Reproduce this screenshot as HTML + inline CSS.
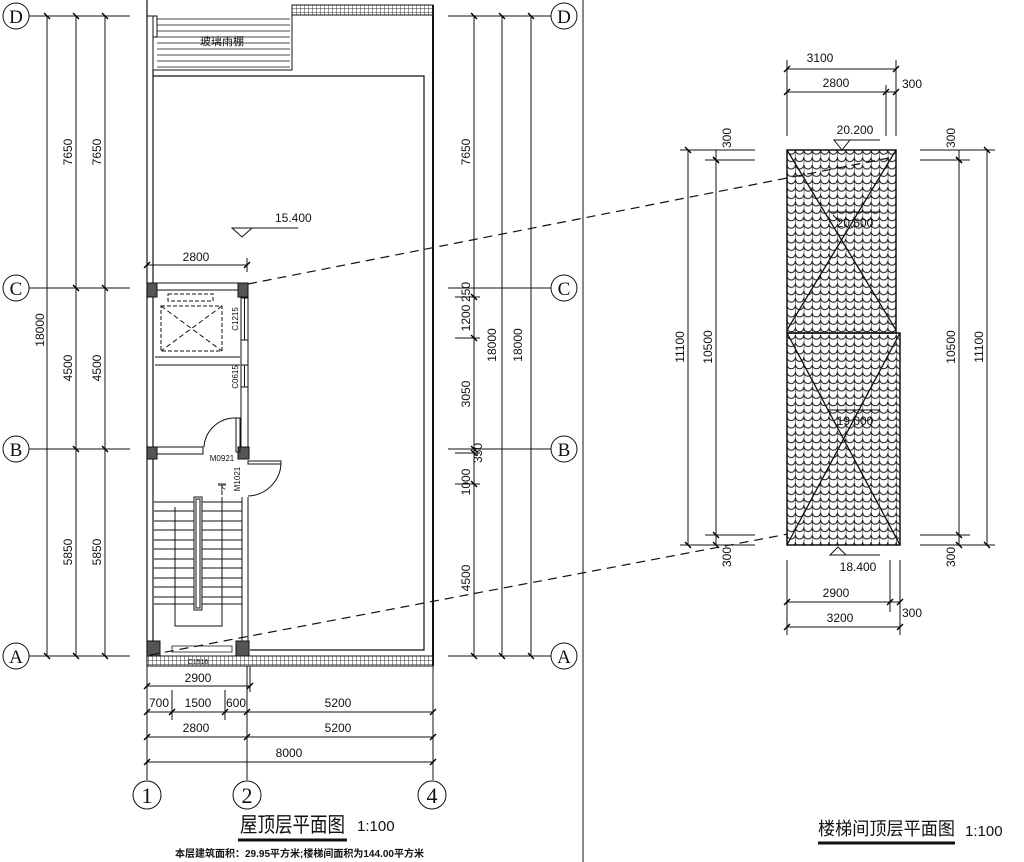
<!DOCTYPE html>
<html><head><meta charset="utf-8"><style>
html,body{margin:0;padding:0;background:#fff}
svg{display:block}
text{font-family:"Liberation Sans","Noto Sans CJK SC",sans-serif;fill:#111}
</style></head><body>
<svg width="1024" height="862" viewBox="0 0 1024 862" xmlns="http://www.w3.org/2000/svg">
<defs>
<marker id="t" viewBox="-4 -4 8 8" markerWidth="8" markerHeight="8" markerUnits="userSpaceOnUse" refX="0" refY="0" orient="auto">
<path d="M-3,3 L3,-3" stroke="#000" stroke-width="1.4"/></marker>
<pattern id="hat" width="4" height="4" patternUnits="userSpaceOnUse">
<rect width="4" height="4" fill="#fff"/><path d="M0,0H4M0,0V4" stroke="#333" stroke-width="1"/></pattern>
<pattern id="tile" x="787" y="150" width="8.4" height="7.4" patternUnits="userSpaceOnUse">
<path d="M0,0V7.4M0,0A4.2,4.2 0 0 0 8.4,0" stroke="#111" stroke-width="1" fill="none"/></pattern>
</defs>
<g stroke="#111" stroke-width="1" fill="none">
<line x1="583" y1="0" x2="583" y2="862"/>
<circle cx="16" cy="16" r="13"/><circle cx="16" cy="288" r="13"/><circle cx="16" cy="449" r="13"/><circle cx="16" cy="656" r="13"/>
<circle cx="564" cy="16" r="13"/><circle cx="564" cy="288" r="13"/><circle cx="564" cy="449" r="13"/><circle cx="564" cy="656" r="13"/>
<path d="M29,16H130M29,288H130M29,449H130M29,656H130"/>
<path d="M448,16H551M448,288H551M448,449H551M448,656H551"/>
<path d="M455,297H480M455,338H480M455,453H480M455,484H480"/>
<line x1="47" y1="16" x2="47" y2="656" marker-start="url(#t)" marker-end="url(#t)"/>
<line x1="76" y1="16" x2="76" y2="656" marker-start="url(#t)" marker-end="url(#t)"/>
<line x1="105" y1="16" x2="105" y2="656" marker-start="url(#t)" marker-end="url(#t)"/>
<line x1="76" y1="288" x2="76" y2="449" marker-start="url(#t)" marker-end="url(#t)"/>
<line x1="105" y1="288" x2="105" y2="449" marker-start="url(#t)" marker-end="url(#t)"/>
<line x1="474" y1="16" x2="474" y2="656" marker-start="url(#t)" marker-end="url(#t)"/>
<line x1="502" y1="16" x2="502" y2="656" marker-start="url(#t)" marker-end="url(#t)"/>
<line x1="531" y1="16" x2="531" y2="656" marker-start="url(#t)" marker-end="url(#t)"/>
<line x1="474" y1="288" x2="474" y2="297" marker-end="url(#t)"/>
<line x1="474" y1="338" x2="474" y2="449" marker-start="url(#t)" marker-end="url(#t)"/>
<line x1="474" y1="453" x2="474" y2="484" marker-start="url(#t)" marker-end="url(#t)"/>
<path d="M147,0V666M153,70V650H160M153,76H424V650H250" stroke-width="1.2"/>
<path d="M147,16H153M153,16V70H292V5" />
<path d="M433,5V666" stroke-width="2"/>
<rect x="292" y="5" width="141" height="10" fill="url(#hat)"/>
<rect x="147" y="656" width="286" height="10" fill="url(#hat)"/>
<path d="M157,19H290M157,25H290M157,31H290M157,37H290M157,43H290M157,49H290M157,55H290M157,61H290M157,67H290" stroke-width="0.8"/>
<path d="M153,16H157V37H153"/>
<path d="M157,283H238M157,290H238M241,297V447M248,297V447M155,357H240M155,365H240M242,497V641M248,497V641"/>
<rect x="241" y="298" width="7" height="42"/><line x1="244.5" y1="298" x2="244.5" y2="340"/>
<rect x="241" y="365" width="7" height="22"/><line x1="244.5" y1="365" x2="244.5" y2="387"/>
<path d="M157,447H203V454H157"/>
<g fill="#555"><rect x="147" y="283" width="10" height="14"/><rect x="238" y="283" width="10" height="14"/><rect x="147" y="447" width="10" height="12"/><rect x="238" y="447" width="11" height="12"/><rect x="147" y="641" width="13" height="15"/><rect x="236" y="641" width="13" height="15"/></g>
<rect x="168" y="294" width="45" height="7" stroke-dasharray="4,2"/>
<rect x="161" y="306" width="61" height="45" stroke-dasharray="4,2"/>
<path d="M161,306L222,351M222,306L161,351" stroke-dasharray="5,3"/>
<rect x="236" y="418" width="4" height="34"/>
<path d="M204,447A31,31 0 0 1 236,418"/>
<rect x="248" y="461" width="33" height="3"/>
<path d="M281,461A34,34 0 0 1 248,496"/>
<path d="M154,502H242M154,511H242M154,521H242M154,530H242M154,540H242M154,549H242M154,559H242M154,568H242M154,578H242M154,587H242M154,597H242M154,604H242" stroke-width="0.9"/>
<rect x="194" y="497" width="8" height="113" fill="#fff"/><rect x="196" y="499" width="4" height="109"/>
<path d="M175,507V626H222V498"/>
<path d="M222,485V520" stroke-dasharray="4,2"/>
<path d="M218,484H226"/>
<path d="M172,646H232V652H172Z" stroke-width="0.8"/>
<path d="M232,228H252L242,237Z M252,228H298"/>
<line x1="147" y1="265" x2="247" y2="265" marker-start="url(#t)" marker-end="url(#t)"/>
<path d="M247,258V272"/>
<path d="M248,284L889,158" stroke-dasharray="9,6" stroke-width="1.2"/>
<path d="M150,655L788,534" stroke-dasharray="9,6" stroke-width="1.2"/>
<path d="M147,666V780M247,666V780M433,666V780M172,690V720M225,690V720M250,666V692"/>
<line x1="147" y1="686" x2="250" y2="686" marker-start="url(#t)" marker-end="url(#t)"/>
<line x1="147" y1="712" x2="433" y2="712" marker-start="url(#t)" marker-end="url(#t)"/>
<line x1="172" y1="712" x2="225" y2="712" marker-start="url(#t)" marker-end="url(#t)"/>
<line x1="225" y1="712" x2="247" y2="712" marker-end="url(#t)"/>
<line x1="147" y1="737" x2="433" y2="737" marker-start="url(#t)" marker-end="url(#t)"/>
<line x1="147" y1="737" x2="247" y2="737" marker-end="url(#t)"/>
<line x1="147" y1="762" x2="433" y2="762" marker-start="url(#t)" marker-end="url(#t)"/>
<circle cx="147" cy="795" r="14"/><circle cx="247" cy="795" r="14"/><circle cx="432" cy="795" r="14"/>
<line x1="238" y1="840" x2="347" y2="840" stroke-width="3"/>
<rect x="787" y="150" width="109" height="183" fill="url(#tile)" stroke-width="1.5"/>
<rect x="787" y="333" width="113" height="212" fill="url(#tile)" stroke-width="1.5"/>
<path d="M787,150L896,330M896,150L787,330M787,333L900,545M900,333L787,545" stroke-width="1.3"/>
<path d="M830,212H880M833,215L840,222 M830,410H880"/>
<path d="M834,140H850L842,150Z M850,140H880"/>
<path d="M830,555H846L838,547Z M846,555H880"/>
<path d="M787,60V136M896,60V136M886,85V136"/>
<line x1="787" y1="69" x2="896" y2="69" marker-start="url(#t)" marker-end="url(#t)"/>
<line x1="787" y1="92" x2="886" y2="92" marker-start="url(#t)" marker-end="url(#t)"/>
<line x1="886" y1="92" x2="896" y2="92" marker-end="url(#t)"/>
<path d="M787,560V635M890,560V612M900,560V635"/>
<line x1="787" y1="602" x2="890" y2="602" marker-start="url(#t)" marker-end="url(#t)"/>
<line x1="890" y1="602" x2="900" y2="602" marker-end="url(#t)"/>
<line x1="787" y1="627" x2="900" y2="627" marker-start="url(#t)" marker-end="url(#t)"/>
<path d="M680,150H755M705,160H755M705,535H755M680,545H755"/>
<path d="M920,150H995M920,160H970M920,535H970M920,545H995"/>
<line x1="688" y1="150" x2="688" y2="545" marker-start="url(#t)" marker-end="url(#t)"/>
<line x1="716" y1="160" x2="716" y2="535" marker-start="url(#t)" marker-end="url(#t)"/>
<line x1="716" y1="150" x2="716" y2="160" marker-end="url(#t)"/>
<line x1="716" y1="535" x2="716" y2="545" marker-end="url(#t)"/>
<line x1="959" y1="160" x2="959" y2="535" marker-start="url(#t)" marker-end="url(#t)"/>
<line x1="959" y1="150" x2="959" y2="160" marker-end="url(#t)"/>
<line x1="959" y1="535" x2="959" y2="545" marker-end="url(#t)"/>
<line x1="987" y1="150" x2="987" y2="545" marker-start="url(#t)" marker-end="url(#t)"/>
<line x1="818" y1="843" x2="955" y2="843" stroke-width="3"/>
</g>
<g font-size="19" text-anchor="middle" style="font-family:'Liberation Serif',serif">
<text x="16" y="23" style="font-family:'Liberation Serif'">D</text><text x="16" y="295" style="font-family:'Liberation Serif'">C</text><text x="16" y="456" style="font-family:'Liberation Serif'">B</text><text x="16" y="663" style="font-family:'Liberation Serif'">A</text>
<text x="564" y="23" style="font-family:'Liberation Serif'">D</text><text x="564" y="295" style="font-family:'Liberation Serif'">C</text><text x="564" y="456" style="font-family:'Liberation Serif'">B</text><text x="564" y="663" style="font-family:'Liberation Serif'">A</text>
<text x="147" y="803" style="font-family:'Liberation Serif'" font-size="22">1</text><text x="247" y="803" style="font-family:'Liberation Serif'" font-size="22">2</text><text x="432" y="803" style="font-family:'Liberation Serif'" font-size="22">4</text>
</g>
<g font-size="12" text-anchor="middle">
<text transform="translate(44,330) rotate(-90)">18000</text>
<text transform="translate(72,152) rotate(-90)">7650</text>
<text transform="translate(101,152) rotate(-90)">7650</text>
<text transform="translate(72,368) rotate(-90)">4500</text>
<text transform="translate(101,368) rotate(-90)">4500</text>
<text transform="translate(72,552) rotate(-90)">5850</text>
<text transform="translate(101,552) rotate(-90)">5850</text>
<text transform="translate(470,152) rotate(-90)">7650</text>
<text transform="translate(470,292) rotate(-90)">250</text>
<text transform="translate(470,318) rotate(-90)">1200</text>
<text transform="translate(470,394) rotate(-90)">3050</text>
<text transform="translate(482,453) rotate(-90)">350</text>
<text transform="translate(470,482) rotate(-90)">1000</text>
<text transform="translate(470,578) rotate(-90)">4500</text>
<text transform="translate(496,345) rotate(-90)">18000</text>
<text transform="translate(522,345) rotate(-90)">18000</text>
<text x="275" y="222" text-anchor="start">15.400</text>
<text x="196" y="261">2800</text>
<text x="198" y="682">2900</text>
<text x="159" y="707">700</text>
<text x="198" y="707">1500</text>
<text x="236" y="707">600</text>
<text x="338" y="707">5200</text>
<text x="196" y="732">2800</text>
<text x="338" y="732">5200</text>
<text x="289" y="757">8000</text>
<text x="222" y="45" font-size="11">玻璃雨棚</text>
<text x="820" y="62">3100</text>
<text x="836" y="87">2800</text>
<text x="912" y="88">300</text>
<text x="855" y="134">20.200</text>
<text x="855" y="227">20.600</text>
<text x="855" y="425">19.000</text>
<text x="858" y="571">18.400</text>
<text x="836" y="597">2900</text>
<text x="840" y="622">3200</text>
<text x="912" y="617">300</text>
<text transform="translate(684,347) rotate(-90)">11100</text>
<text transform="translate(712,347) rotate(-90)">10500</text>
<text transform="translate(731,138) rotate(-90)">300</text>
<text transform="translate(731,557) rotate(-90)">300</text>
<text transform="translate(955,347) rotate(-90)">10500</text>
<text transform="translate(983,347) rotate(-90)">11100</text>
<text transform="translate(955,138) rotate(-90)">300</text>
<text transform="translate(955,557) rotate(-90)">300</text>
</g>
<g font-size="8" text-anchor="middle">
<text transform="translate(238,319) rotate(-90)">C1215</text>
<text transform="translate(238,377) rotate(-90)">C0615</text>
<text x="222" y="461">M0921</text>
<text transform="translate(240,479) rotate(-90)">M1021</text>
<text x="198" y="664" font-size="7">C1516</text>
<text x="222" y="492" font-size="9">下</text>
</g>
<text x="240" y="832" font-size="21" textLength="105" lengthAdjust="spacingAndGlyphs">屋顶层平面图</text>
<text x="357" y="831" font-size="15">1:100</text>
<text x="175" y="857" font-size="10" font-weight="bold">本层建筑面积：29.95平方米;楼梯间面积为144.00平方米</text>
<text x="818" y="835" font-size="18" textLength="137" lengthAdjust="spacingAndGlyphs">楼梯间顶层平面图</text>
<text x="965" y="836" font-size="15">1:100</text>
</svg>
</body></html>
